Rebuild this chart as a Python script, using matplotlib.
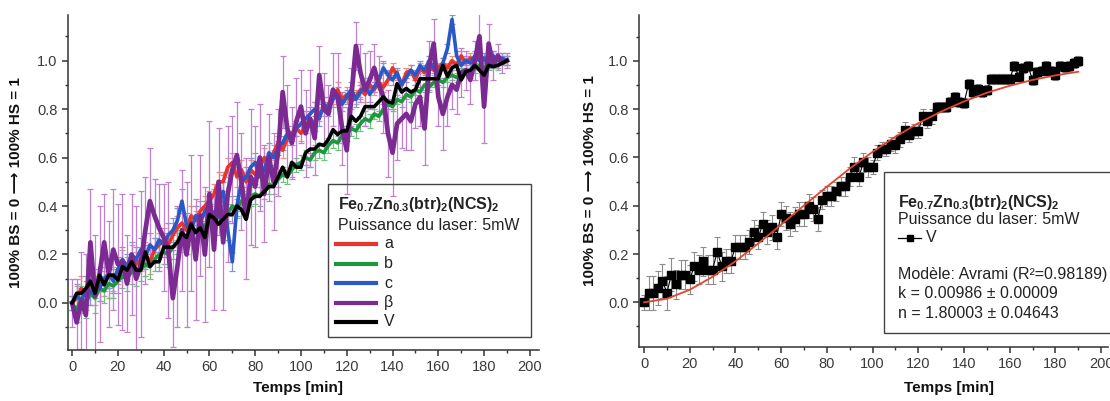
import numpy as np
import matplotlib
matplotlib.use('Agg')
import matplotlib.pyplot as plt
from matplotlib.patches import Rectangle
from matplotlib.lines import Line2D
from matplotlib.ticker import MultipleLocator

plt.rcParams['font.family'] = ['Liberation Sans', 'DejaVu Sans']
plt.rcParams['mathtext.fontset'] = 'custom'
plt.rcParams['mathtext.rm'] = 'Liberation Sans'
plt.rcParams['mathtext.bf'] = 'Liberation Sans:bold'
plt.rcParams['mathtext.it'] = 'Liberation Sans:italic'

# temps de mesure (min), un point toutes les 2 min
temps = np.arange(0, 191, 2)

# fraction HS - moyenne V
V = [0.00, 0.04, 0.04, 0.06, 0.09, 0.04, 0.115, 0.075, 0.115, 0.115,
     0.095, 0.15, 0.135, 0.17, 0.135, 0.135, 0.21, 0.15, 0.17, 0.17,
     0.23, 0.23, 0.23, 0.25, 0.29, 0.27, 0.325, 0.29, 0.31, 0.27,
     0.365, 0.35, 0.325, 0.345, 0.365, 0.365, 0.40, 0.385, 0.345, 0.425,
     0.44, 0.44, 0.46, 0.48, 0.48, 0.52, 0.56, 0.52, 0.58, 0.56,
     0.56, 0.62, 0.635, 0.635, 0.655, 0.65, 0.675, 0.715, 0.695, 0.71,
     0.71, 0.77, 0.75, 0.77, 0.81, 0.81, 0.81, 0.83, 0.85, 0.83,
     0.825, 0.905, 0.87, 0.885, 0.87, 0.88, 0.925, 0.925, 0.925, 0.925,
     0.925, 0.98, 0.935, 0.97, 0.98, 0.92, 0.955, 0.96, 0.98, 0.96,
     0.94, 0.98, 0.975, 0.98, 0.99, 1.00]
V_err = [0.03, 0.07, 0.07, 0.07, 0.07, 0.07, 0.07, 0.06, 0.06, 0.06,
         0.06, 0.06, 0.06, 0.06, 0.06, 0.06, 0.06, 0.06, 0.05, 0.05,
         0.05, 0.05, 0.05, 0.05, 0.05, 0.05, 0.05, 0.05, 0.05, 0.05,
         0.05, 0.05, 0.05, 0.05, 0.05, 0.05, 0.05, 0.05, 0.05, 0.04,
         0.04, 0.04, 0.04, 0.04, 0.04, 0.04, 0.04, 0.04, 0.04, 0.04,
         0.03, 0.03, 0.03, 0.03, 0.03, 0.03, 0.03, 0.03, 0.03, 0.03,
         0.03, 0.03, 0.03, 0.03, 0.02, 0.02, 0.02, 0.02, 0.02, 0.02,
         0.02, 0.02, 0.02, 0.02, 0.02, 0.02, 0.02, 0.02, 0.02, 0.02,
         0.02, 0.02, 0.02, 0.02, 0.02, 0.02, 0.02, 0.02, 0.02, 0.02,
         0.02, 0.02, 0.02, 0.02, 0.02, 0.02]

a = [0.00, 0.02, 0.06, 0.03, 0.08, 0.05, 0.10, 0.08, 0.12, 0.10,
     0.13, 0.17, 0.14, 0.19, 0.16, 0.18, 0.20, 0.17, 0.22, 0.24,
     0.26, 0.24, 0.28, 0.31, 0.33, 0.30, 0.36, 0.34, 0.38, 0.40,
     0.42, 0.45, 0.50, 0.50, 0.56, 0.58, 0.52, 0.55, 0.50, 0.55,
     0.53, 0.56, 0.60, 0.58, 0.62, 0.66, 0.63, 0.68, 0.70, 0.72,
     0.70, 0.73, 0.76, 0.74, 0.78, 0.80, 0.82, 0.85, 0.88, 0.84,
     0.86, 0.83, 0.85, 0.88, 0.86, 0.90, 0.88, 0.91, 0.89, 0.92,
     0.97, 0.94, 0.90, 0.95, 0.96, 0.92, 0.97, 0.95, 0.98, 0.96,
     0.97, 0.99, 0.97, 1.00, 0.98, 1.02, 0.99, 1.01, 1.00, 1.03,
     1.00, 1.02, 0.99, 1.01, 1.00, 1.00]
b = [0.00, -0.03, 0.02, 0.00, 0.04, 0.02, 0.06, 0.05, 0.08, 0.07,
     0.09, 0.11, 0.10, 0.13, 0.12, 0.14, 0.16, 0.15, 0.18, 0.20,
     0.21, 0.20, 0.23, 0.25, 0.26, 0.25, 0.28, 0.30, 0.29, 0.32,
     0.34, 0.33, 0.36, 0.38, 0.37, 0.40, 0.39, 0.42, 0.41, 0.44,
     0.45, 0.44, 0.47, 0.49, 0.48, 0.51, 0.53, 0.52, 0.55, 0.57,
     0.58, 0.60, 0.59, 0.62, 0.63, 0.62, 0.65, 0.67, 0.66, 0.69,
     0.70, 0.72, 0.71, 0.74, 0.76, 0.75, 0.78, 0.77, 0.80, 0.82,
     0.81, 0.84, 0.83, 0.86, 0.85, 0.88, 0.87, 0.90, 0.89, 0.91,
     0.92, 0.91, 0.93, 0.94, 0.93, 0.95, 0.96, 0.95, 0.97, 0.98,
     0.97, 0.98, 0.99, 0.98, 1.00, 1.00]
c = [0.00, 0.03, 0.01, 0.05, 0.04, 0.08, 0.06, 0.10, 0.12, 0.09,
     0.14, 0.18, 0.15, 0.20, 0.18, 0.22, 0.19, 0.24, 0.22, 0.26,
     0.24, 0.28, 0.30, 0.34, 0.42, 0.32, 0.30, 0.36, 0.33, 0.38,
     0.40, 0.36, 0.42, 0.46, 0.30, 0.17, 0.40, 0.50, 0.52, 0.56,
     0.58, 0.52, 0.55, 0.62, 0.60, 0.64, 0.66, 0.70, 0.68, 0.72,
     0.74, 0.76, 0.78, 0.80, 0.76, 0.82, 0.80, 0.84, 0.86, 0.82,
     0.85, 0.88, 0.84, 0.87, 0.90, 0.86, 0.89, 0.92, 0.97, 0.94,
     0.92, 0.95, 0.90, 0.93, 0.96, 0.94, 0.98, 0.96, 1.00, 0.97,
     0.94, 0.99, 1.05, 1.17, 1.02, 0.98, 1.00, 0.99, 1.02, 1.00,
     1.01, 0.99, 1.02, 1.00, 1.01, 1.00]
beta = [0.00, -0.08, 0.01, -0.05, 0.25, 0.03, 0.12, 0.25, 0.12, 0.22,
        0.16, 0.17, 0.08, 0.20, 0.10, 0.16, 0.30, 0.42, 0.36, 0.31,
        0.27, 0.22, 0.02, 0.15, 0.30, 0.20, 0.33, 0.18, 0.36, 0.20,
        0.45, 0.22, 0.50, 0.25, 0.45, 0.55, 0.61, 0.50, 0.35, 0.52,
        0.48, 0.60, 0.45, 0.60, 0.50, 0.62, 0.87, 0.72, 0.66, 0.75,
        0.81, 0.70, 0.76, 0.68, 0.94, 0.80, 0.78, 0.88, 0.85, 0.72,
        0.63, 0.85, 1.06, 0.95, 0.88, 0.92, 0.97, 0.90, 0.85, 0.70,
        0.62, 0.74, 0.76, 0.78, 0.75, 0.82, 0.85, 0.72, 0.98, 1.07,
        0.85, 0.78, 0.85, 0.90, 0.88, 0.95, 0.96, 0.92, 1.00, 1.10,
        0.81, 1.07, 0.98, 1.02, 0.99, 1.00]
beta_err = [0.10, 0.18, 0.20, 0.25, 0.22, 0.25, 0.28, 0.20, 0.22, 0.25,
            0.25, 0.28, 0.20, 0.25, 0.30, 0.30, 0.22, 0.22, 0.15, 0.18,
            0.22, 0.28, 0.20, 0.25, 0.25, 0.30, 0.28, 0.25, 0.25, 0.28,
            0.30, 0.25, 0.22, 0.28, 0.28, 0.22, 0.22, 0.20, 0.25, 0.28,
            0.25, 0.22, 0.20, 0.18, 0.20, 0.18, 0.15, 0.18, 0.15, 0.18,
            0.15, 0.18, 0.20, 0.15, 0.12, 0.15, 0.12, 0.15, 0.18, 0.15,
            0.18, 0.12, 0.10, 0.12, 0.15, 0.12, 0.10, 0.12, 0.15, 0.18,
            0.18, 0.15, 0.12, 0.15, 0.12, 0.10, 0.12, 0.15, 0.10, 0.10,
            0.12, 0.15, 0.12, 0.10, 0.10, 0.10, 0.08, 0.10, 0.08, 0.10,
            0.15, 0.08, 0.06, 0.05, 0.04, 0.03]
abc_err = [0.03, 0.05, 0.05, 0.06, 0.05, 0.06, 0.05, 0.05, 0.06, 0.05,
           0.05, 0.05, 0.05, 0.05, 0.05, 0.05, 0.05, 0.05, 0.05, 0.05,
           0.05, 0.05, 0.05, 0.05, 0.05, 0.05, 0.04, 0.04, 0.04, 0.04,
           0.04, 0.04, 0.04, 0.04, 0.04, 0.04, 0.04, 0.04, 0.04, 0.04,
           0.04, 0.04, 0.04, 0.04, 0.03, 0.03, 0.03, 0.03, 0.03, 0.03,
           0.03, 0.03, 0.03, 0.03, 0.03, 0.03, 0.03, 0.03, 0.03, 0.03,
           0.03, 0.03, 0.03, 0.03, 0.03, 0.03, 0.02, 0.02, 0.02, 0.02,
           0.02, 0.02, 0.02, 0.02, 0.02, 0.02, 0.02, 0.02, 0.02, 0.02,
           0.02, 0.02, 0.02, 0.02, 0.02, 0.02, 0.02, 0.02, 0.02, 0.02,
           0.02, 0.02, 0.02, 0.02, 0.02, 0.02]

# courbe du modele Avrami
fit_t = [0, 10, 20, 30, 40, 50, 60, 70, 80, 90,
         100, 110, 120, 130, 140, 150, 160, 170, 180, 190]
fit_v = [0.0, 0.015, 0.052, 0.106, 0.170, 0.244, 0.322, 0.401, 0.479, 0.554,
         0.623, 0.686, 0.742, 0.790, 0.832, 0.868, 0.897, 0.921, 0.940, 0.955]

W, H = 1110, 401
fig = plt.figure(figsize=(W / 100, H / 100), dpi=100)


def fx(x):
    return x / W


def fy(y):
    return 1 - y / H


def style_axes(ax):
    for s in ['top', 'right']:
        ax.spines[s].set_visible(False)
    for s in ['left', 'bottom']:
        ax.spines[s].set_color('#333333')
        ax.spines[s].set_linewidth(1.1)
    ax.xaxis.set_major_locator(MultipleLocator(20))
    ax.xaxis.set_minor_locator(MultipleLocator(10))
    ax.yaxis.set_major_locator(MultipleLocator(0.2))
    ax.yaxis.set_minor_locator(MultipleLocator(0.1))
    ax.yaxis.set_major_formatter(plt.FormatStrFormatter('%.1f'))
    ax.tick_params(which='major', direction='out', length=4.5, width=1.1,
                   color='#333333', labelsize=10.5, labelcolor='#3a3a3a', pad=3)
    ax.tick_params(which='minor', direction='out', length=2.5, width=1.0,
                   color='#333333')
    ax.set_ylabel('100% BS = 0 \u27f6 100% HS = 1', fontsize=11,
                  fontweight='bold', color='#111111')
    ax.set_xlabel('Temps [min]', fontsize=11, fontweight='bold',
                  color='#111111')


# ---- panneau gauche ----
ax1 = fig.add_axes([fx(68), fy(350), fx(539) - fx(68), fy(15) - fy(350)])
style_axes(ax1)
ax1.set_xlim(-1.8, 204)
ax1.set_ylim(-0.194, 1.188)
ax1.yaxis.set_label_coords((23 - 68) / 471, 0.5)
ax1.xaxis.set_label_coords((298 - 68) / 471, (350 - 381) / 335)

series = [
    ('a', a, abc_err, '#e8342a', '#f29080', 2.6),
    ('b', b, abc_err, '#1e9640', '#70c080', 2.6),
    ('c', c, abc_err, '#2a58c8', '#7c98dc', 2.6),
    ('\u03b2', beta, beta_err, '#7b2a92', '#bf80d0', 3.4),
]
for name, vals, err, col, ecol, lw in series:
    ax1.errorbar(temps, vals, yerr=err, fmt='none', ecolor=ecol,
                 elinewidth=0.9, capsize=2, capthick=0.9, zorder=1)
for k, (name, vals, err, col, ecol, lw) in enumerate(series):
    ax1.plot(temps, vals, color=col, lw=lw, zorder=2 + k)
ax1.plot(temps, V, color='black', lw=2.6, zorder=8)

# legende gauche
fig.add_artist(Rectangle((fx(328), fy(337)), fx(531) - fx(328), fy(184) - fy(337),
                         transform=fig.transFigure, fill=False,
                         edgecolor='#444444', lw=1.0))
fig.text(fx(338), fy(205), r'$\mathbf{Fe_{0.7}Zn_{0.3}(btr)_{2}(NCS)_{2}}$',
         ha='left', va='center', fontsize=11.5, color='#222222')
fig.text(fx(338), fy(225), 'Puissance du laser: 5mW', ha='left',
         va='center', fontsize=11.5, color='#222222')
leg_y = [244, 263.5, 283, 302.5, 322]
leg_items = [(s[0], s[3]) for s in series] + [('V', 'black')]
for yy, (name, col) in zip(leg_y, leg_items):
    fig.add_artist(Line2D([fx(336), fx(376)], [fy(yy), fy(yy)], color=col,
                          lw=3.0, transform=fig.transFigure))
    fig.text(fx(384), fy(yy), name, ha='left', va='center', fontsize=11.5,
             color='#222222')

# ---- panneau droit ----
ax2 = fig.add_axes([fx(639), fy(347), fx(1108) - fx(639), fy(15) - fy(347)])
style_axes(ax2)
ax2.set_xlim(-2.2, 203)
ax2.set_ylim(-0.185, 1.19)
ax2.yaxis.set_label_coords((597 - 639) / 469, 0.5)
ax2.xaxis.set_label_coords((949 - 639) / 469, (347 - 381) / 332)

ax2.errorbar(temps, V, yerr=V_err, fmt='none', ecolor='#8c8c8c',
             elinewidth=0.8, capsize=2.5, capthick=0.8, zorder=1)
ax2.plot(temps, V, color='black', lw=0.8, marker='s', ms=5.2, zorder=3)
ax2.plot(fit_t, fit_v, color='#e4452a', lw=1.3, zorder=4)

# legende droite
fig.add_artist(Rectangle((fx(884), fy(333)), fx(1140) - fx(884), fy(172) - fy(333),
                         transform=fig.transFigure, fill=False,
                         edgecolor='#444444', lw=1.0))
fig.text(fx(898), fy(202), r'$\mathbf{Fe_{0.7}Zn_{0.3}(btr)_{2}(NCS)_{2}}$',
         ha='left', va='center', fontsize=11.5, color='#222222')
fig.text(fx(898), fy(220), 'Puissance du laser: 5mW', ha='left',
         va='center', fontsize=11.5, color='#222222')
fig.add_artist(Line2D([fx(898), fx(921)], [fy(238), fy(238)], color='black',
                      lw=0.9, transform=fig.transFigure))
fig.add_artist(Line2D([fx(909.5)], [fy(238)], color='black', marker='s',
                      ms=5, transform=fig.transFigure))
fig.text(fx(926), fy(238), 'V', ha='left', va='center', fontsize=11.5,
         color='#222222')
fig.text(fx(898), fy(275), 'Modèle: Avrami (R\u00b2=0.98189)', ha='left',
         va='center', fontsize=11.5, color='#222222')
fig.text(fx(898), fy(294), 'k = 0.00986 \u00b1 0.00009', ha='left',
         va='center', fontsize=11.5, color='#222222')
fig.text(fx(898), fy(313), 'n = 1.80003 \u00b1 0.04643', ha='left',
         va='center', fontsize=11.5, color='#222222')

fig.savefig('out.png', dpi=100)
